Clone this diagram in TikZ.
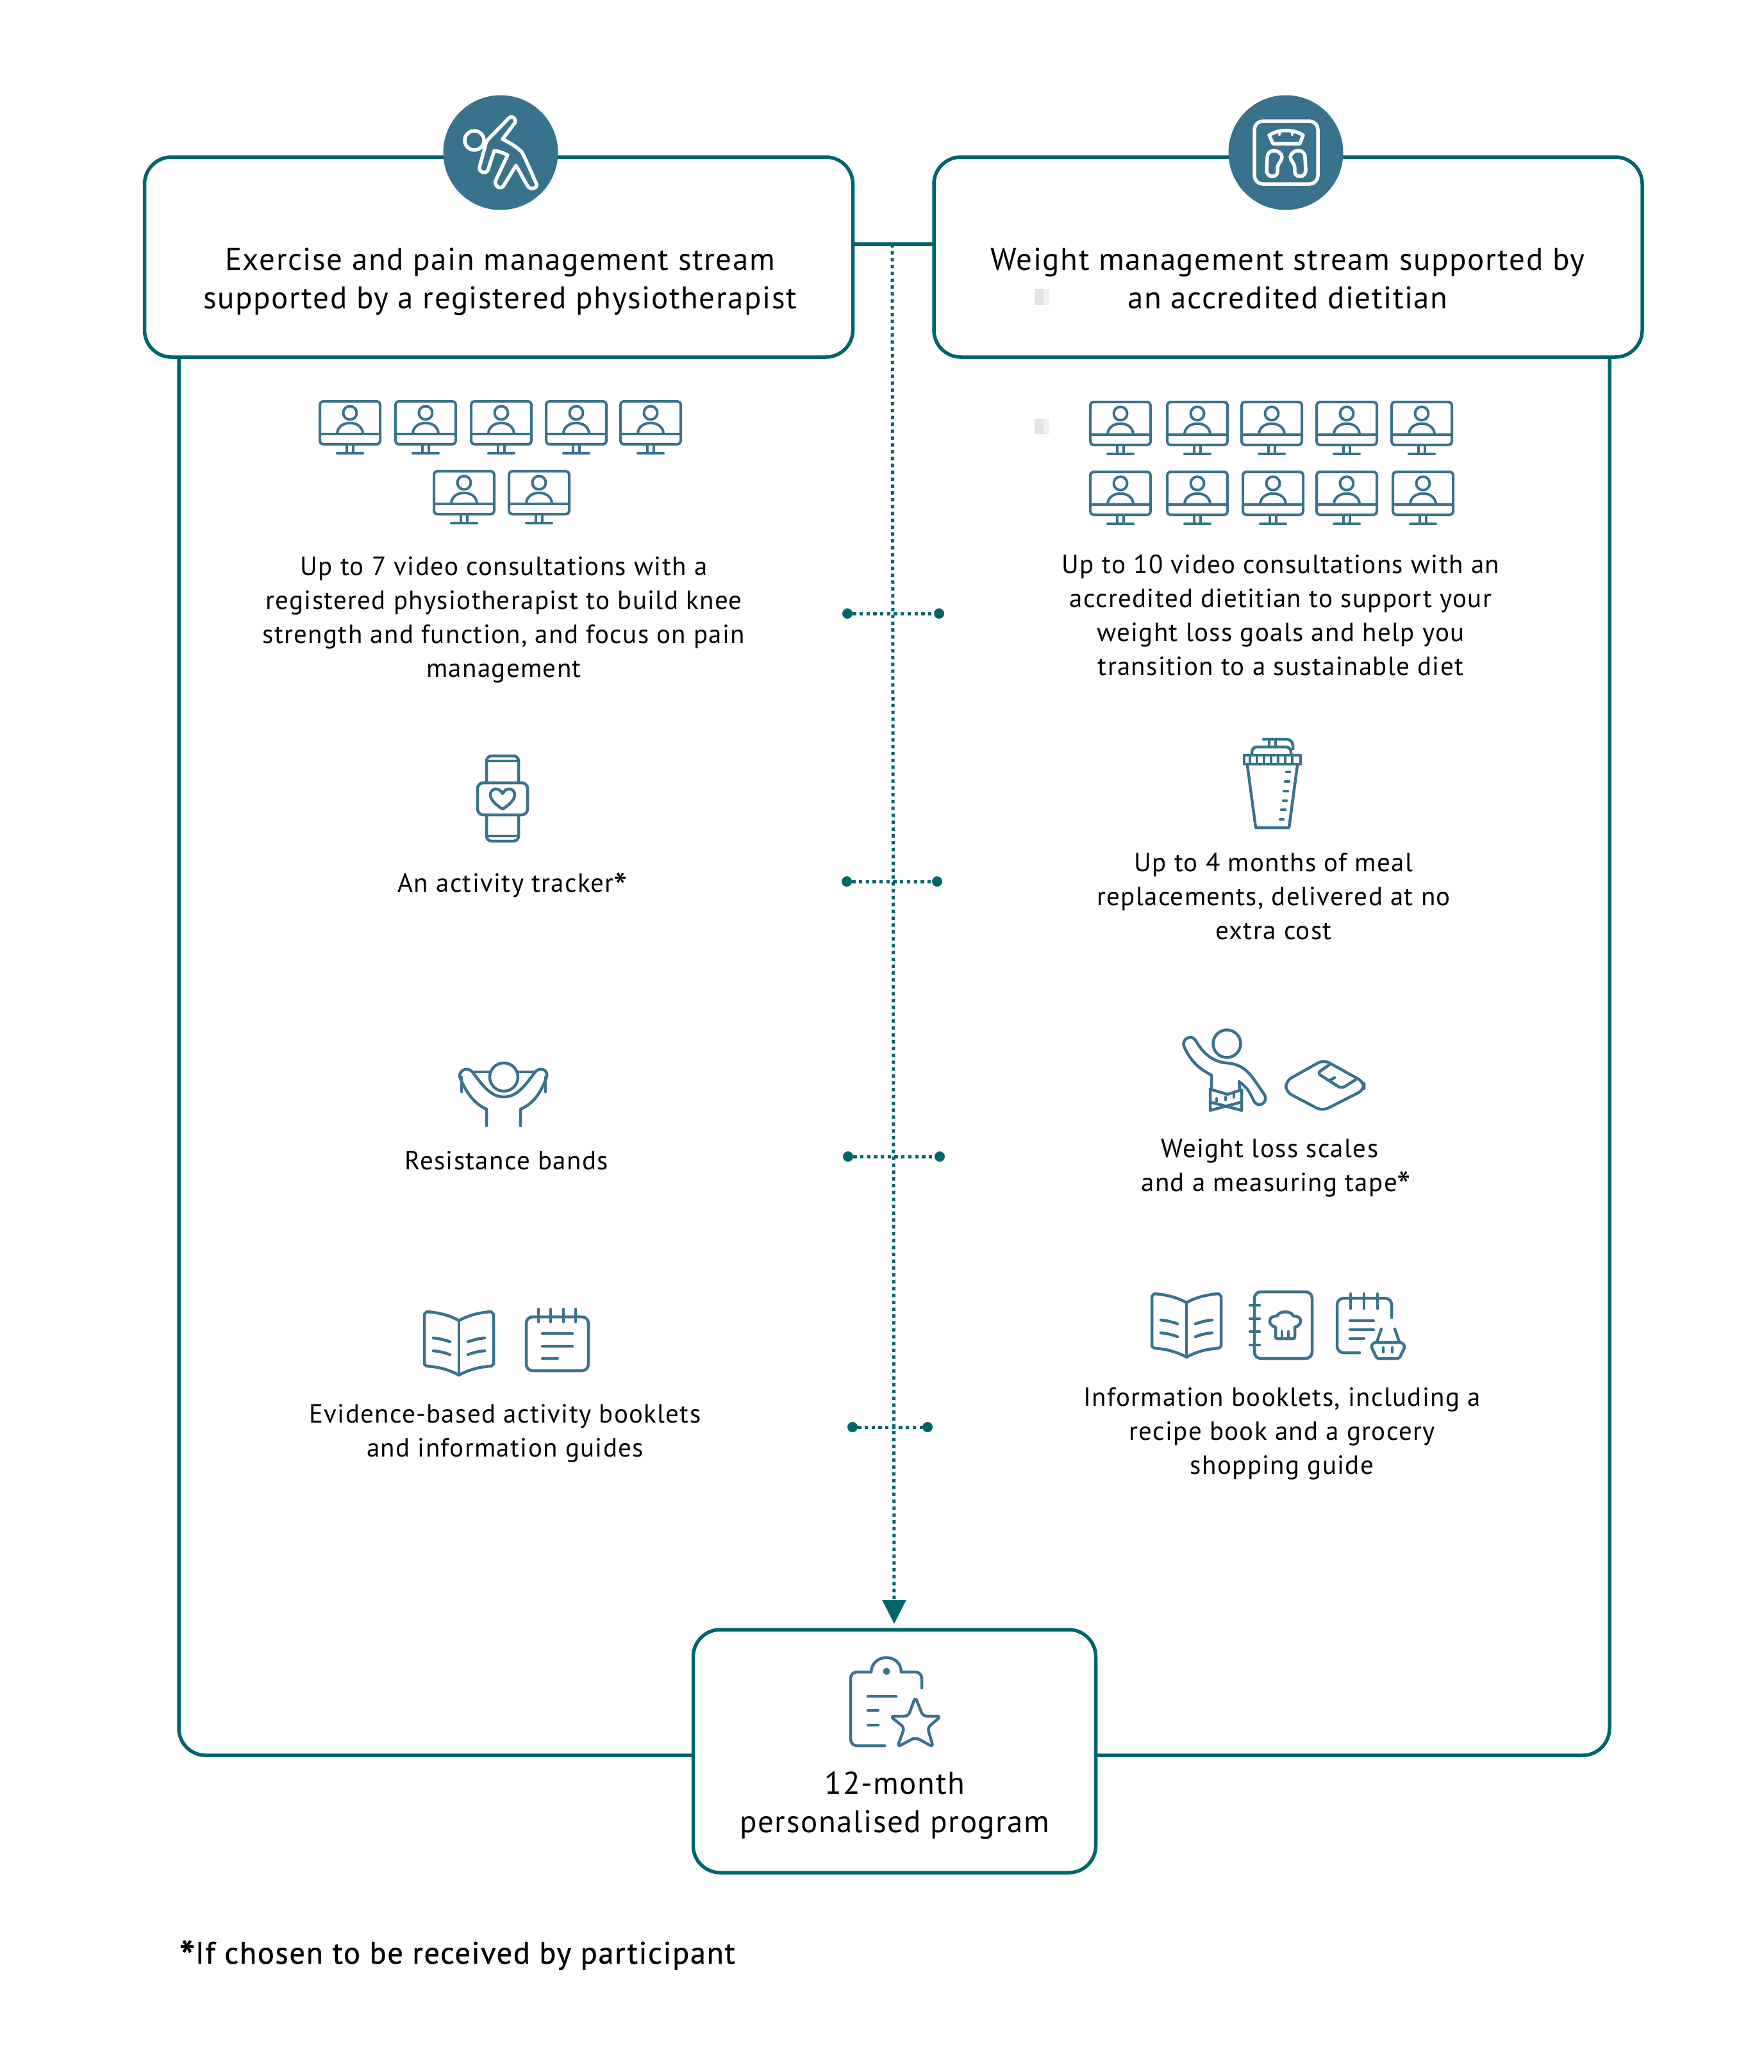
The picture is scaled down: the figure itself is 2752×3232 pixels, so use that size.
\documentclass[tikz,border=0pt]{standalone}
\usepackage{fontspec}
\usetikzlibrary{arrows.meta}
\setmainfont{PT Sans}
\newfontfamily\bodyfam[LetterSpace=3.2]{PT Sans}
\newfontfamily\headfam[LetterSpace=3.2]{PT Sans}
\newfontfamily\footfam[LetterSpace=3.2,FakeBold=0.8]{PT Sans}
\newcommand{\bodyf}{\bodyfam\fontsize{41}{53}\selectfont}
\newcommand{\headf}{\headfam\fontsize{49}{60}\selectfont}
\newcommand{\footf}{\footfam\fontsize{48.5}{56}\selectfont}
\newcommand{\bigast}{\raisebox{-0.32em}{\scalebox{1.5}{*}}}
\definecolor{teal1}{RGB}{0,101,107}
\definecolor{ic}{RGB}{56,114,140}
\tikzset{
  box/.style={draw=teal1,line width=5.5pt,rounded corners=42pt,fill=white,inner sep=0pt},
  conn/.style={draw=teal1,line width=5.5pt},
  dotv/.style={draw=teal1,line width=5pt,dash pattern=on 5.3pt off 5.4pt},
  dot/.style={circle,fill=teal1,minimum size=16pt,inner sep=0pt},
  badge/.style={circle,fill=ic,minimum size=179pt,inner sep=0pt},
  body/.style={align=center,inner sep=0pt,text=black,font=\bodyf},
  head/.style={align=center,inner sep=0pt,text=black,font=\headf},
  icon/.style={draw=ic,line width=4.5pt,line cap=round,line join=round},
  wicon/.style={draw=white,line width=5.5pt,line cap=round,line join=round},
}
\newcommand{\monitor}[2]{\begin{scope}[shift={(#1,#2)}]
  \draw[icon,line width=4pt,rounded corners=5pt] (-47,0) rectangle (47,67);
  \draw[icon,line width=4pt] (-47,51) -- (47,51);
  \draw[icon,line width=4pt] (0,18) circle[radius=10.5];
  \draw[icon,line width=4pt] (-20,51) .. controls (-20,28) and (20,28) .. (20,51);
  \draw[icon,line width=4pt] (-5,67) -- (-5,80) (5,67) -- (5,80);
  \draw[icon,line width=4pt] (-20,81) -- (20,81);
\end{scope}}
\newcommand{\book}[2]{\begin{scope}[shift={(#1,#2)}]
  \draw[icon] (0,0) .. controls (-15,-9) and (-35,-13) .. (-50,-14) -- (-54,-10) -- (-54,68) -- (-50,71) .. controls (-30,72) and (-12,78) .. (0,85) .. controls (12,78) and (30,72) .. (50,71) -- (54,68) -- (54,-10) -- (50,-14) .. controls (35,-13) and (15,-9) .. (0,0) -- cycle;
  \draw[icon] (0,0) -- (0,85);
  \draw[icon] (-40,27) .. controls (-30,28) and (-22,30) .. (-14,33) (-40,47) .. controls (-30,48) and (-22,50) .. (-14,53);
  \draw[icon] (40,27) .. controls (30,28) and (22,30) .. (14,33) (40,47) .. controls (30,48) and (22,50) .. (14,53);
\end{scope}}
\begin{document}
\begin{tikzpicture}[x=1pt,y=-1pt]
\useasboundingbox (0,0) rectangle (2752,3232);
% connector coordinates
\coordinate (bl) at (1332,381);
\coordinate (br) at (1455,381);
\coordinate (la) at (279,557);
\coordinate (lb) at (1080,2738);
\coordinate (ra) at (2511,557);
\coordinate (rb) at (1711,2738);
\coordinate (vtop) at (1392,381);
\coordinate (vbot) at (1395,2533);
% outer lines
\draw[conn,rounded corners=42pt] (la) |- (lb);
\draw[conn,rounded corners=42pt] (ra) |- (rb);
% dotted arrow
\draw[dotv,-{Triangle[length=37pt,width=36pt,fill=teal1]}] (vtop) -- (vbot);
% boxes
\node[box,minimum width=1105pt,minimum height=312pt] (L) at (778,401) {};
\node[box,minimum width=1105pt,minimum height=312pt] (R) at (2009.5,401) {};
\node[box,minimum width=628pt,minimum height=379pt] (B) at (1395.5,2731.5) {};
\draw[conn] (bl) -- (br);
% faint marks
\fill[gray!22] (1614,451) rectangle (1628,476);
\fill[gray!12] (1628,451) rectangle (1637,476);
\fill[gray!22] (1614,653) rectangle (1628,677);
\fill[gray!12] (1628,653) rectangle (1637,677);
% dots rows
\node[dot] (d1a) at (1322,957) {};
\node[dot] (d1b) at (1465,957) {};
\node[dot] (d2a) at (1321,1375) {};
\node[dot] (d2b) at (1462,1375) {};
\node[dot] (d3a) at (1323,1804) {};
\node[dot] (d3b) at (1466,1804) {};
\node[dot] (d4a) at (1330,2226) {};
\node[dot] (d4b) at (1447,2226) {};
\draw[dotv] (d1a) -- (d1b);
\draw[dotv] (d2a) -- (d2b);
\draw[dotv] (d3a) -- (d3b);
\draw[dotv] (d4a) -- (d4b);
% badges
\node[badge] (bL) at (781,238) {};
\node[badge] (bR) at (2006,238) {};
% exercise figure
\draw[wicon] (740,219) circle[radius=15];
\draw[wicon] (760,219) -- (794,184) .. controls (799,179) and (807,186) .. (803,192) -- (784,217) .. controls (796,223) and (806,229) .. (814,237) .. controls (822,252) and (830,272) .. (837,287) .. controls (839,294) and (827,297) .. (823,290) -- (805,258) -- (786,289) .. controls (782,297) and (771,291) .. (773,282) -- (792,242) .. controls (784,238) and (778,236) .. (771,235) -- (761,266) .. controls (757,272) and (747,269) .. (748,261) -- (758,224) -- cycle;
% scale badge icon
\draw[wicon,rounded corners=13pt] (1957,189) rectangle (2056,287);
\draw[wicon] (1980,211) .. controls (1995,201) and (2018,201) .. (2033,211) -- (2028,224) -- (1986,224) -- cycle;
\draw[wicon,line width=4pt] (1996,206) -- (1996,210) (2016,206) -- (2016,210);
\draw[wicon] (1977,246) .. controls (1977,238) and (1982,235) .. (1988,235) .. controls (1994,235) and (2000,240) .. (2000,245) .. controls (2000,251) and (1993,255) .. (1993,262) .. controls (1994,270) and (1992,275) .. (1985,275) .. controls (1978,275) and (1976,270) .. (1976,265) -- cycle;
\begin{scope}[shift={(4013,0)},xscale=-1]
\draw[wicon] (1977,246) .. controls (1977,238) and (1982,235) .. (1988,235) .. controls (1994,235) and (2000,240) .. (2000,245) .. controls (2000,251) and (1993,255) .. (1993,262) .. controls (1994,270) and (1992,275) .. (1985,275) .. controls (1978,275) and (1976,270) .. (1976,265) -- cycle;
\end{scope}
% header text
\node[head] (tL) at (780,439) {Exercise and pain management stream\\supported by a registered physiotherapist};
\node[head] (tR) at (2009,434) {Weight management stream supported by\\an accredited dietitian};
% monitors left
\monitor{546}{626}\monitor{664}{626}\monitor{782}{626}\monitor{899}{626}\monitor{1015}{626}
\monitor{724}{735}\monitor{841}{735}
% monitors right
\monitor{1748}{627}\monitor{1868}{627}\monitor{1984}{627}\monitor{2101}{627}\monitor{2218}{627}
\monitor{1748}{736}\monitor{1868}{736}\monitor{1986}{736}\monitor{2101}{736}\monitor{2220}{736}
% body text
\node[body] (a1) at (786,967) {Up to 7 video consultations with a\\registered physiotherapist to build knee\\strength and function, and focus on pain\\management};
\node[body] (a2) at (1998,960) {Up to 10 video consultations with an\\accredited dietitian to support your\\weight loss goals and help you\\transition to a sustainable diet};
\node[body] (b1) at (800,1383) {An activity tracker\bigast};
\node[body] (b2) at (1987,1398) {Up to 4 months of meal\\replacements, delivered at no\\extra cost};
\node[body] (c1) at (790,1810) {Resistance bands};
\node[body] (c2) at (1991,1824) {\hspace*{-20pt}Weight loss scales\\and a measuring tape\bigast};
\node[body] (d1) at (788,2236) {Evidence-based activity booklets\\and information guides};
\node[body] (d2) at (2000,2236) {Information booklets, including a\\recipe book and a grocery\\shopping guide};
\node[head] (e) at (1396,2816) {12-month\\personalised program};
\node[inner sep=0pt,anchor=base west,text=black,font=\footf] (f) at (279,3063) {\bigast If chosen to be received by participant};
% watch
\draw[icon,rounded corners=8pt] (759,1221) -- (759,1179) -- (809,1179) -- (809,1221);
\draw[icon] (759,1187) -- (809,1187);
\draw[icon,rounded corners=8pt] (759,1271) -- (759,1312) -- (809,1312) -- (809,1271);
\draw[icon] (759,1304) -- (809,1304);
\draw[icon,rounded corners=9pt] (745,1221) rectangle (823,1271);
\draw[icon] (784,1238) .. controls (778,1226) and (764,1230) .. (765,1241) .. controls (766,1249) and (776,1257) .. (784,1262) .. controls (792,1257) and (802,1249) .. (803,1241) .. controls (804,1230) and (790,1226) .. (784,1238) -- cycle;
% bands figure
\draw[icon] (786,1680) circle[radius=22];
\draw[icon] (737,1672) -- (764,1672) (808,1672) -- (835,1672);
\draw[icon] (737,1672) .. controls (752,1692) and (765,1711) .. (786,1711) .. controls (807,1711) and (820,1692) .. (835,1672);
\draw[icon] (737,1672) .. controls (730,1664) and (717,1668) .. (717,1679) .. controls (726,1703) and (740,1722) .. (759,1730) -- (759,1756);
\draw[icon] (835,1672) .. controls (842,1664) and (855,1668) .. (853,1679) .. controls (845,1703) and (832,1722) .. (812,1730) -- (812,1756);
\draw[icon] (720,1680) -- (720,1703) (851,1680) -- (851,1703);
% shaker
\draw[icon] (1946,1194) -- (1959,1291) -- (2011,1291) -- (2024,1194);
\draw[icon] (1941,1178) rectangle (2029,1192);
\draw[icon,line width=3.5pt] (1950,1178) -- (1950,1192) (1961,1178) -- (1961,1192) (1972,1178) -- (1972,1192) (1983,1178) -- (1983,1192) (1994,1178) -- (1994,1192) (2005,1178) -- (2005,1192) (2016,1178) -- (2016,1192);
\draw[icon,rounded corners=8pt] (1953,1177) -- (1953,1165) -- (2014,1165) -- (2014,1177);
\draw[icon,rounded corners=10pt] (1971,1153) -- (2017,1153) -- (2017,1168);
\draw[icon] (1980,1153) -- (1980,1165) (1990,1153) -- (1990,1165);
\draw[icon] (2007,1204) -- (2012,1204) (2005,1219) -- (2011,1219) (2003,1234) -- (2009,1234) (2002,1249) -- (2007,1249) (1999,1263) -- (2005,1263) (1997,1278) -- (2002,1278);
% person with tape
\draw[icon] (1914,1628) circle[radius=21.5];
\draw[icon] (1890,1698) -- (1890,1677) .. controls (1866,1665) and (1855,1650) .. (1847,1632) .. controls (1843,1620) and (1860,1612) .. (1866,1624) .. controls (1875,1640) and (1890,1656) .. (1913,1658) .. controls (1945,1660) and (1953,1680) .. (1973,1708) .. controls (1979,1722) and (1960,1730) .. (1955,1715) .. controls (1949,1702) and (1945,1696) .. (1933,1687) -- (1934,1701);
\draw[icon] (1888,1699) -- (1915,1707) -- (1937,1700) -- (1937,1732) -- (1888,1719);
\draw[icon] (1888,1699) -- (1888,1732) -- (1937,1719);
\draw[icon,line width=3.5pt] (1898,1713) -- (1898,1718) (1912,1711) -- (1912,1716) (1925,1707) -- (1925,1712);
% floor scale
\draw[icon,rounded corners=10pt] (2006,1686) -- (2006,1703) -- (2063,1733) -- (2128,1700) -- (2128,1688) -- (2065,1653) -- cycle;
\draw[icon,rounded corners=6pt] (2075,1660) -- (2055,1674) -- (2093,1698) -- (2115,1684);
\draw[icon] (2082,1681) -- (2075,1685);
% books
\book{716}{2060}
\book{1851}{2032}
% left note
\draw[icon,rounded corners=10pt] (821,2054) rectangle (918,2138);
\draw[icon] (840,2042) -- (840,2062) (859,2042) -- (859,2062) (879,2042) -- (879,2062) (898,2042) -- (898,2062);
\draw[icon] (846,2080) -- (893,2080) (846,2100) -- (893,2100) (846,2119) -- (870,2119);
% recipe book
\draw[icon,rounded corners=10pt] (1957,2015) rectangle (2047,2119);
\draw[icon] (1950,2036) -- (1965,2036) (1950,2057) -- (1965,2057) (1950,2077) -- (1965,2077) (1950,2098) -- (1965,2098);
\draw[icon] (1990,2085) .. controls (1990,2088) and (1991,2088) .. (1993,2088) -- (2017,2088) .. controls (2019,2088) and (2020,2088) .. (2020,2085) -- (2020,2070) .. controls (2032,2068) and (2033,2052) .. (2018,2053) .. controls (2014,2044) and (1996,2044) .. (1992,2053) .. controls (1977,2052) and (1978,2068) .. (1990,2070) -- cycle;
\draw[icon] (2000,2077) -- (2000,2087) (2010,2077) -- (2010,2087);
% note with basket
\draw[icon,rounded corners=10pt] (2121,2110) -- (2086,2110) -- (2086,2025) -- (2171,2025) -- (2171,2055);
\draw[icon] (2107,2018) -- (2107,2041) (2128,2018) -- (2128,2041) (2149,2018) -- (2149,2041);
\draw[icon] (2106,2060) -- (2143,2060) (2106,2074) -- (2143,2074) (2106,2088) -- (2128,2088);
\draw[icon,rounded corners=3pt] (2143,2094) -- (2187,2094) -- (2192,2100) -- (2183,2119) -- (2148,2119) -- (2139,2100) -- cycle;
\draw[icon] (2155,2073) -- (2148,2093) (2176,2073) -- (2183,2093);
\draw[icon] (2158,2102) -- (2158,2109) (2172,2102) -- (2172,2109);
% clipboard star
\draw[icon,rounded corners=10pt] (1380,2723) -- (1327,2723) -- (1327,2608) -- (1359,2608);
\draw[icon] (1359,2608) .. controls (1361,2578) and (1405,2578) .. (1406,2608);
\draw[icon,rounded corners=10pt] (1406,2608) -- (1438,2608) -- (1438,2633);
\fill[ic] (1383,2607) circle[radius=5.5];
\draw[icon] (1354,2646) -- (1398,2646) (1354,2668) -- (1370,2668) (1354,2691) -- (1370,2691);
\draw[icon,rounded corners=6pt] (1428,2647) -- (1440,2677) -- (1468,2677) -- (1447,2695) -- (1456,2725) -- (1428,2710) -- (1400,2725) -- (1411,2695) -- (1389,2677) -- (1417,2677) -- cycle;
\end{tikzpicture}
\end{document}
